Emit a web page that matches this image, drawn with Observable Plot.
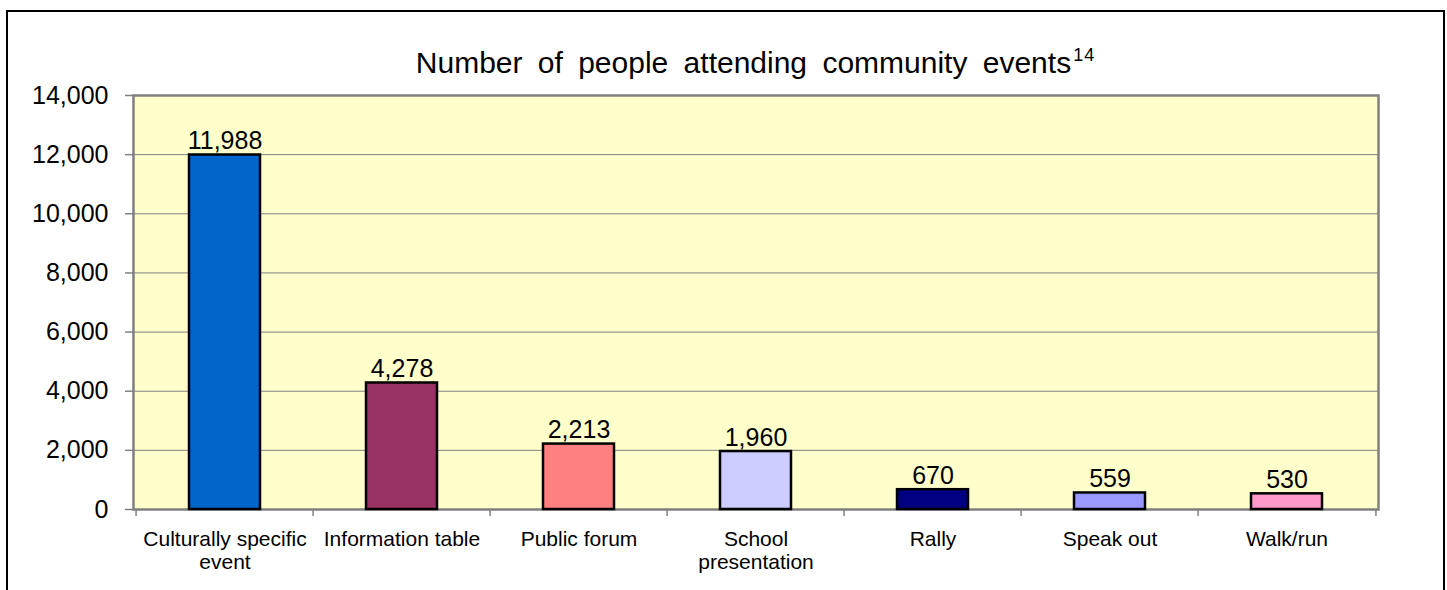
<!DOCTYPE html>
<html>
<head>
<meta charset="utf-8">
<script src="https://cdn.jsdelivr.net/npm/d3@7"></script>
<script src="https://cdn.jsdelivr.net/npm/@observablehq/plot@0.6"></script>
<style>
  html, body { margin: 0; padding: 0; background: #fff; overflow: hidden; width: 1447px; height: 590px; }
  body { font-family: "Liberation Sans", Arial, Helvetica, sans-serif; position: relative; }
  #frame { position: absolute; left: 6px; top: 10px; width: 1439px; height: 700px; border: 2.5px solid #000; box-sizing: border-box; pointer-events: none; }
  #title { height: 80px; box-sizing: border-box; padding: 48px 69px 0 133px; line-height: 30px; font-size: 30px; text-align: center; word-spacing: 7px; color: #000; white-space: nowrap; }
  #title .sup { font-size: 18px; position: relative; top: -12px; margin-left: 2px; letter-spacing: 1px; word-spacing: 0; }
  #chart svg { display: block; }
</style>
</head>
<body>
<div id="frame"></div>
<div id="title">Number of people attending community events<span class="sup">14</span></div>
<div id="chart"></div>
<script>
const categories = ["Culturally specific\nevent", "Information table", "Public forum", "School\npresentation", "Rally", "Speak out", "Walk/run"];
const values = [11988, 4278, 2213, 1960, 670, 559, 530];
const colors = ["#0066CC", "#993366", "#FF8080", "#CCCCFF", "#000080", "#9999FF", "#FF99CC"];
const yTicks = [0, 2000, 4000, 6000, 8000, 10000, 12000, 14000];

const data = categories.map((c, i) => ({category: c, value: values[i], color: colors[i]}));

const W = 1447, H = 510, mL = 133, mR = 69, mT = 15, mB = 81;
const step = (W - mL - mR) / categories.length;
const fmt = d3.format(",");

const chart = Plot.plot({
  width: W,
  height: H,
  marginTop: mT,
  marginLeft: mL,
  marginRight: mR,
  marginBottom: mB,
  style: {fontFamily: "'Liberation Sans', Arial, sans-serif", background: "transparent", overflow: "visible", color: "#000"},
  x: {domain: categories, paddingInner: 0.6, paddingOuter: 0.3, label: null},
  y: {domain: [0, 14000], label: null},
  color: {type: "identity"},
  marks: [
    Plot.frame({fill: "#FFFFCC"}),
    Plot.gridY(yTicks, {stroke: "#808080", strokeOpacity: 1, strokeWidth: 1}),
    Plot.frame({stroke: "#808080", strokeWidth: 2.5}),
    Plot.barY(data, {x: "category", y: "value", fill: "color", stroke: "#000", strokeWidth: 2.5}),
    Plot.text(data, {x: "category", y: "value", text: d => fmt(d.value), lineAnchor: "bottom", dy: -6, fontSize: 25, fill: "#000"}),
    Plot.axisY(yTicks, {tickSize: 8, tickPadding: 17, tickFormat: fmt, fontSize: 25, stroke: "#808080", strokeWidth: 1.5, fill: "#000", label: null}),
    Plot.axisX({tickSize: 0, tickPadding: 19, fontSize: 21, lineHeight: 1.14, fill: "#000", label: null}),
    Plot.ruleX(categories, {x: d => d, y1: 0, y2: 0, insetBottom: -7, dx: -step / 2, stroke: "#808080", strokeWidth: 1.5}),
    Plot.ruleX(categories.slice(-1), {x: d => d, y1: 0, y2: 0, insetBottom: -7, dx: step / 2, stroke: "#808080", strokeWidth: 1.5})
  ]
});
document.getElementById("chart").appendChild(chart);
</script>
</body>
</html>
